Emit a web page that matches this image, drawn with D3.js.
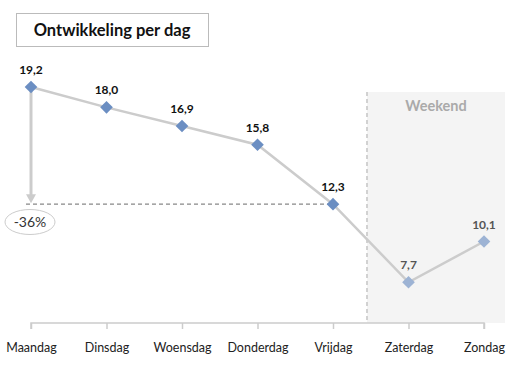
<!DOCTYPE html>
<html><head><meta charset="utf-8">
<script src="https://cdn.jsdelivr.net/npm/d3@7"></script>
<style>body{margin:0;background:#fff}svg{display:block}text{font-family:Lato,"Open Sans",sans-serif}</style>
</head><body><svg id="c" width="524" height="366"></svg>
<script>
const days = ["Maandag","Dinsdag","Woensdag","Donderdag","Vrijdag","Zaterdag","Zondag"];
const values = [19.2,18.0,16.9,15.8,12.3,7.7,10.1];
const labels = ["19,2","18,0","16,9","15,8","12,3","7,7","10,1"];
const weekend = ["Zaterdag","Zondag"];
const changeLabel = "-36%";

const svg = d3.select("#c");
const x = d3.scalePoint().domain(days).range([31,484]);
const y = d3.scaleLinear().domain([5.3,19.2]).range([323,87]);
const step = x.step();

// weekend band
const wx0 = x("Vrijdag") + step*0.45;
svg.append("rect").attr("x",wx0).attr("y",92).attr("width",505-wx0).attr("height",323-92).attr("fill","#f4f4f4");
svg.append("line").attr("x1",wx0).attr("x2",wx0).attr("y1",92).attr("y2",323)
  .attr("stroke","#aaa").attr("stroke-dasharray","4,3").attr("stroke-width",1);
svg.append("text").attr("x",(wx0+505)/2).attr("y",111).attr("text-anchor","middle")
  .attr("font-size",14.5).attr("font-weight","bold").attr("fill","#aaa").text("Weekend");

// x axis
const ax = svg.append("g").attr("transform","translate(0,323)")
  .call(d3.axisBottom(x).tickSize(6).tickPadding(14));
ax.select(".domain").attr("stroke","#ccc").attr("stroke-width",1.5).attr("d","M31,6V0H484V6");
ax.selectAll(".tick line").attr("stroke","#ccc").attr("stroke-width",1.5);
ax.selectAll(".tick text").attr("font-size",12.5).attr("fill","#222").attr("font-family","Lato,'Open Sans',sans-serif");

// arrow and dashed reference
const yTop = y(values[0]), yFri = y(values[4]);
svg.append("line").attr("x1",26).attr("x2",x(days[4])).attr("y1",yFri).attr("y2",yFri)
  .attr("stroke","#888").attr("stroke-dasharray","4,3").attr("stroke-width",1.2);
svg.append("line").attr("x1",x(days[0])).attr("x2",x(days[0])).attr("y1",yTop).attr("y2",yFri-8)
  .attr("stroke","#ccc").attr("stroke-width",3);
svg.append("path").attr("d",`M${x(days[0])-5},${yFri-10}L${x(days[0])+5},${yFri-10}L${x(days[0])},${yFri-1}Z`).attr("fill","#ccc");
svg.append("ellipse").attr("cx",30).attr("cy",222).attr("rx",25).attr("ry",12.5)
  .attr("fill","#fff").attr("stroke","#ccc").attr("stroke-width",1);
svg.append("text").attr("x",30).attr("y",227).attr("text-anchor","middle").attr("font-size",14).attr("fill","#333").text(changeLabel);

// line
svg.append("path").datum(values).attr("fill","none").attr("stroke","#ccc").attr("stroke-width",2.5)
  .attr("d",d3.line().x((d,i)=>x(days[i])).y(d=>y(d)));

// markers
const sym = d3.symbol().type(d3.symbolSquare).size(80);
svg.selectAll(".m").data(values).join("path")
  .attr("transform",(d,i)=>`translate(${x(days[i])},${y(d)}) rotate(45)`)
  .attr("d",sym).attr("fill",(d,i)=>weekend.includes(days[i])?"#9db3d4":"#6b8ec2");

// labels
svg.selectAll(".l").data(values).join("text")
  .attr("x",(d,i)=>x(days[i])).attr("y",d=>y(d)-13).attr("text-anchor","middle")
  .attr("font-size",12).attr("font-weight","bold")
  .attr("fill",(d,i)=>weekend.includes(days[i])?"#555":"#111").text((d,i)=>labels[i]);

// title
svg.append("rect").attr("x",16.5).attr("y",13.5).attr("width",192).attr("height",33)
  .attr("fill","#fff").attr("stroke","#bbb").attr("stroke-width",1);
svg.append("text").attr("x",112).attr("y",36).attr("text-anchor","middle").attr("font-size",16.5)
  .attr("font-weight","bold").attr("fill","#111").text("Ontwikkeling per dag");
</script></body></html>
